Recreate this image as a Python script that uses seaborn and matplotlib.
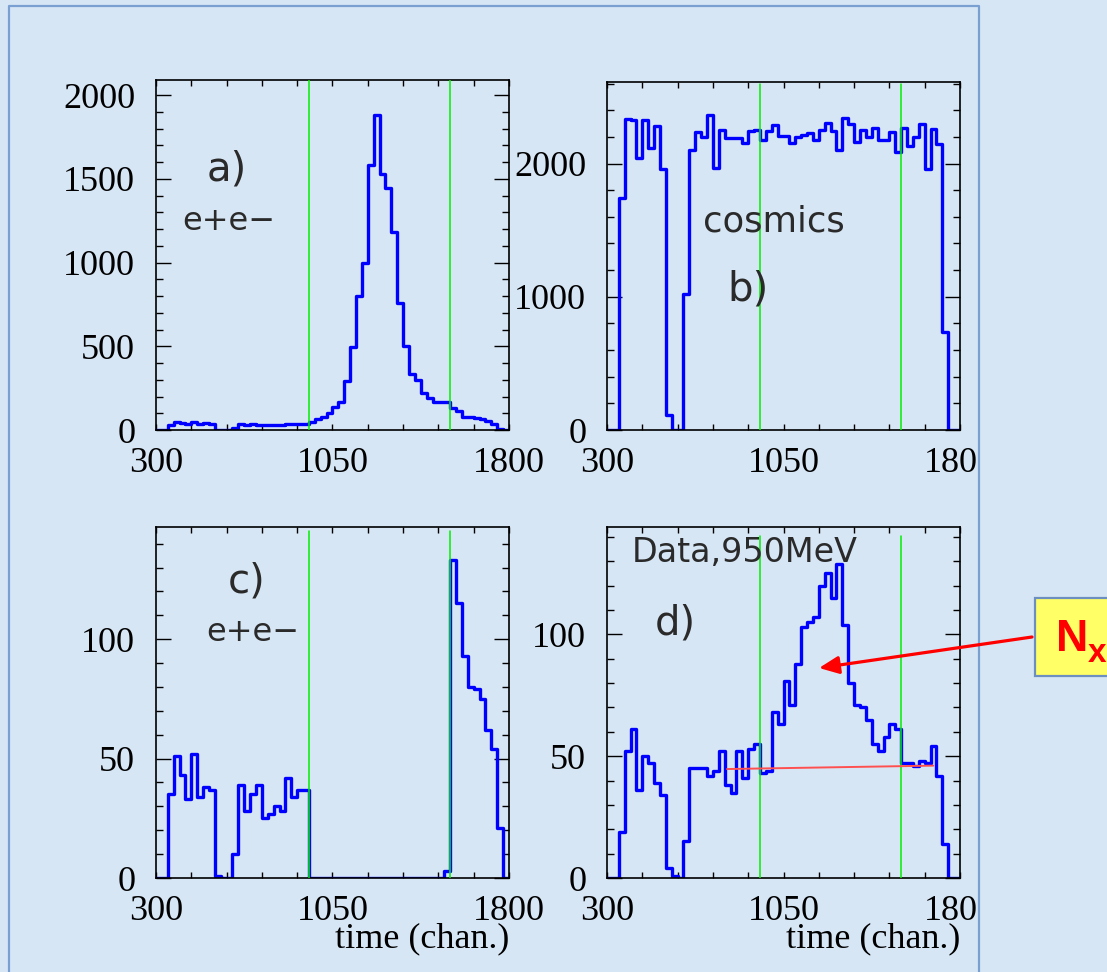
import numpy as np
import pandas as pd
import matplotlib
matplotlib.use("Agg")
import matplotlib.pyplot as plt
import seaborn as sns
from matplotlib.patches import Rectangle, FancyArrowPatch
from matplotlib.lines import Line2D
from matplotlib.ticker import MultipleLocator

# ---------------- data ----------------
bin_edges = np.arange(300, 1801, 25)          # time (chan.), 60 bins of 25
x_ticks = [300, 1050, 1800]
cut_lines = [950, 1550]

counts_a = [0, 0, 30, 46, 40, 34, 46, 36, 40, 36,
            0, 0, 0, 10, 36, 30, 36, 32, 28, 28,
            28, 32, 36, 34, 36, 36, 50, 64, 80, 104,
            140, 170, 292, 498, 800, 1000, 1582, 1880, 1528, 1443,
            1180, 756, 503, 334, 298, 219, 189, 169, 169, 169,
            129, 115, 80, 76, 70, 64, 56, 36, 4, 0]
counts_b = [0, 0, 1745, 2338, 2325, 2045, 2330, 2120, 2283, 1958,
            112, 0, 0, 1020, 2105, 2238, 2200, 2362, 1970, 2255,
            2188, 2188, 2188, 2155, 2245, 2255, 2175, 2245, 2293, 2205,
            2205, 2155, 2200, 2213, 2230, 2175, 2255, 2305, 2245, 2105,
            2343, 2300, 2163, 2250, 2200, 2263, 2180, 2175, 2238, 2088,
            2270, 2130, 2200, 2295, 1958, 2260, 2150, 738, 0, 0]
counts_c = [0, 0, 35, 51, 43, 33, 52, 34, 38, 37,
            1, 0, 0, 10, 39, 28, 35, 39, 25, 27,
            30, 28, 42, 34, 37, 37, 0, 0, 0, 0,
            0, 0, 0, 0, 0, 0, 0, 0, 0, 0,
            0, 0, 0, 0, 0, 0, 0, 0, 0, 3,
            133, 115, 93, 80, 79, 75, 62, 54, 21, 0]
counts_d = [0, 0, 19, 52, 61, 36, 50, 47, 39, 34,
            4, 1, 0, 15, 45, 45, 45, 42, 44, 52,
            38, 35, 52, 41, 53, 55, 43, 44, 68, 63,
            81, 71, 88, 103, 105, 107, 120, 125, 115, 129,
            104, 80, 71, 70, 65, 55, 52, 58, 63, 61,
            47, 47, 46, 48, 47, 54, 42, 14, 0, 0]

bkg_x = [810, 1687]          # background level line in d)
bkg_y = [44.7, 46.1]

yticks_a = [0, 500, 1000, 1500, 2000]
yticks_b = [0, 1000, 2000]
yticks_cd = [0, 50, 100]

# ---------------- style ----------------
sns.set_style("ticks")
plt.rcParams["font.family"] = ["Liberation Serif", "DejaVu Serif"]

W, H = 1107, 972
BG = "#d7e6f5"
fig = plt.figure(figsize=(W / 100, H / 100), dpi=100)
fig.patch.set_facecolor(BG)


def box(l, t, r, b):
    return [l / W, 1 - b / H, (r - l) / W, (b - t) / H]


def fxy(x, y):
    return (x / W, 1 - y / H)


centers = (bin_edges[:-1] + bin_edges[1:]) / 2
bwidth = float(bin_edges[1] - bin_edges[0])
brange = (float(bin_edges[0]), float(bin_edges[-1]))

panels = [
    (box(156, 80, 509, 430), counts_a, (0, 2090), yticks_a, 100, 1.0),
    (box(607, 82, 960, 430), counts_b, (0, 2612), yticks_b, 200, 0.995),
    (box(156, 527, 509, 878), counts_c, (0, 147), yticks_cd, 10, 0.988),
    (box(607, 527, 960, 878), counts_d, (0, 144), yticks_cd, 10, 0.975),
]

axes = []
for rect, cnt, ylim, yt, ymin_step, gtop in panels:
    ax = fig.add_axes(rect)
    ax.set_facecolor("none")
    df = pd.DataFrame({"time": centers, "n": np.asarray(cnt, dtype=float)})
    sns.histplot(data=df, x="time", weights="n", binwidth=bwidth,
                 binrange=brange, element="step", fill=False,
                 color="#0000ff", linewidth=2.4, ax=ax, zorder=2)
    for xc in cut_lines:
        ax.axvline(xc, ymin=0, ymax=gtop, color="#00ee00", lw=1.1, zorder=3)
    ax.set_xlim(300, 1800)
    ax.set_ylim(*ylim)
    ax.set_xlabel("")
    ax.set_ylabel("")
    ax.set_xticks(x_ticks)
    ax.set_xticklabels([str(v) for v in x_ticks])
    ax.set_yticks(yt)
    ax.set_yticklabels([str(v) for v in yt])
    ax.xaxis.set_minor_locator(MultipleLocator(150))
    ax.yaxis.set_minor_locator(MultipleLocator(ymin_step))
    ax.tick_params(axis="both", which="both", direction="in",
                   top=True, right=True, color="black", width=1.0,
                   labelsize=26, labelcolor="black")
    ax.tick_params(axis="x", which="both", length=4.5, pad=12)
    ax.tick_params(axis="y", which="major", length=10.5, pad=15)
    ax.tick_params(axis="y", which="minor", length=5)
    for s in ax.spines.values():
        s.set_visible(True)
        s.set_color("black")
        s.set_linewidth(1.2)
    axes.append(ax)

ax_a, ax_b, ax_c, ax_d = axes

# background level line in d)
ax_d.plot(bkg_x, bkg_y, color="#ff5050", lw=1.4, zorder=4)

# ---------------- annotations ----------------
sans = ["DejaVu Sans"]
tc = "#2a2a2a"


def ftext(x, y, s, size, **kw):
    fig.text(*fxy(x, y), s, fontsize=size, family=kw.pop("family", sans),
             color=kw.pop("color", tc), ha=kw.pop("ha", "left"),
             va=kw.pop("va", "baseline"), **kw)


ftext(207, 180, "a)", 29)
ftext(182, 230, "e+e\u2212", 23)
ftext(703, 231, "cosmics", 25.5)
ftext(727, 300, "b)", 29)
ftext(228, 592, "c)", 29)
ftext(206, 641, "e+e\u2212", 23)
ftext(655, 634, "d)", 29)
ftext(632, 562, "Data,950MeV", 24)

serif = ["Liberation Serif", "DejaVu Serif"]
ftext(509, 947, "time (chan.)", 26, family=serif, color="black", ha="right")
ftext(960, 947, "time (chan.)", 26, family=serif, color="black", ha="right")

# cover the strip right of the slide frame (clips the last tick label)
cover = Rectangle(fxy(979.5, 972), (W - 979.5) / W, 1.0,
                  transform=fig.transFigure, facecolor=BG, edgecolor="none",
                  zorder=3)
fig.add_artist(cover)

# slide frame
fx = [9, 9, 978.5, 978.5]
fy = [990, 6, 6, 990]
frame = Line2D([v / W for v in fx], [1 - v / H for v in fy],
               transform=fig.transFigure, color="#7aa0d2", lw=1.6, zorder=4)
fig.add_artist(frame)

# N_x box
nbox = Rectangle(fxy(1035, 676), 90 / W, 78 / H, transform=fig.transFigure,
                 facecolor="#ffff66", edgecolor="#6d8fc0", lw=1.6, zorder=5)
fig.add_artist(nbox)
ftext(1056, 651, "N", 32, family=["Liberation Sans", "DejaVu Sans"],
      color="#ff0000", weight="bold", zorder=6)
ftext(1088, 662, "x", 24, family=["Liberation Sans", "DejaVu Sans"],
      color="#ff0000", weight="bold", zorder=6)

arrow = FancyArrowPatch(fxy(1032, 637), fxy(819, 668),
                        transform=fig.transFigure,
                        arrowstyle="-|>,head_length=0.85,head_width=0.38",
                        mutation_scale=14, color="#ff0000", lw=2.3,
                        shrinkA=0, shrinkB=0, zorder=6)
fig.add_artist(arrow)

fig.savefig("out.png", dpi=100, facecolor=BG)
